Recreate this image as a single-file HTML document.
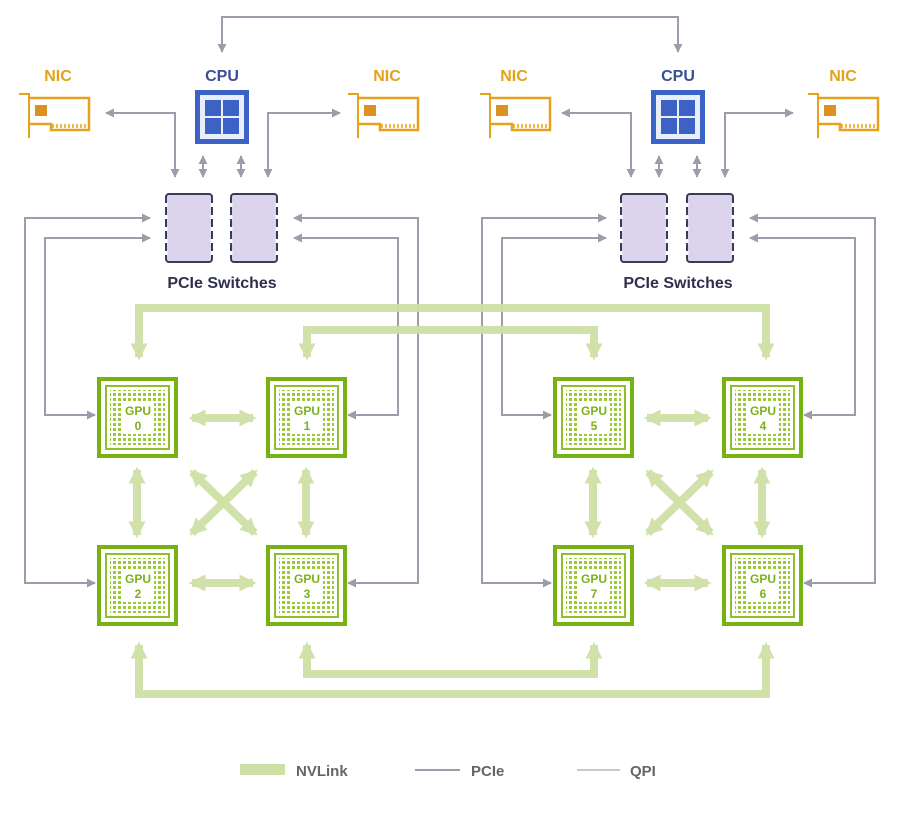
<!DOCTYPE html>
<html><head><meta charset="utf-8"><style>
html,body{margin:0;padding:0;background:#fff;}
svg{display:block;}
text{font-family:"Liberation Sans",sans-serif;font-weight:bold;}
</style></head><body>
<svg width="899" height="813" viewBox="0 0 899 813" xmlns="http://www.w3.org/2000/svg">
<defs>
<marker id="pa" viewBox="0 0 10 10" refX="9" refY="5" markerWidth="9" markerHeight="9" markerUnits="userSpaceOnUse" orient="auto-start-reverse"><path d="M0,0L10,5L0,10z" fill="#9c9cab"/></marker>
<marker id="ga" viewBox="0 0 10 10" refX="8" refY="5" markerWidth="17" markerHeight="17" markerUnits="userSpaceOnUse" orient="auto-start-reverse"><path d="M0,0L10,5L0,10z" fill="#cfe0a6"/></marker>
<pattern id="dots" width="5" height="5" patternUnits="userSpaceOnUse"><rect x="1" y="1" width="3" height="3" fill="#9cc93a"/></pattern>
<symbol id="gpu" viewBox="0 0 81 81">
<rect x="0" y="0" width="81" height="81" fill="#76b312"/>
<rect x="4" y="4" width="73" height="73" fill="#fff"/>
<rect x="9" y="9" width="63" height="63" fill="#fff" stroke="#8fbf2a" stroke-width="2"/>
<rect x="13" y="13" width="55" height="55" fill="url(#dots)"/>
<rect x="24" y="25" width="33" height="32" fill="#fff"/>
</symbol>
<symbol id="nic" viewBox="0 0 72 46">
<path d="M0,2H10V46" fill="none" stroke="#e6a21a" stroke-width="2"/>
<path d="M10,6H70V38H32V32H10" fill="none" stroke="#e6a21a" stroke-width="2.5"/>
<rect x="16" y="13" width="12" height="11" fill="#dc9220"/>
<path d="M34,32V36M38,32V36M42,32V36M46,32V36M50,32V36M54,32V36M58,32V36M62,32V36M66,32V36" stroke="#e6a21a" stroke-width="1.5"/>
</symbol>
<symbol id="cpu" viewBox="0 0 54 54">
<rect x="0" y="0" width="54" height="54" fill="#3b62c4"/>
<rect x="5" y="5" width="44" height="44" fill="#e8eefa"/>
<rect x="10" y="10" width="16" height="16" fill="#3b62c4"/>
<rect x="28" y="10" width="16" height="16" fill="#3b62c4"/>
<rect x="10" y="28" width="16" height="16" fill="#3b62c4"/>
<rect x="28" y="28" width="16" height="16" fill="#3b62c4"/>
</symbol>
<symbol id="sw" viewBox="0 0 48 70">
<rect x="1" y="1" width="46" height="68" rx="3" fill="#dcd3ec" stroke="#3a3a5a" stroke-width="2"/>
<path d="M1,10v4M1,22v4M1,34v4M1,46v4M1,58v4M47,10v4M47,22v4M47,34v4M47,46v4M47,58v4" stroke="#fff" stroke-width="3"/>
</symbol>
</defs>

<path d="M222,52V17H678V52" fill="none" stroke="#9c9cab" stroke-width="2" marker-start="url(#pa)" marker-end="url(#pa)"/>

<g font-size="16" text-anchor="middle">
<text x="58" y="81" fill="#e3a21a">NIC</text>
<text x="222" y="81" fill="#3a4f9a">CPU</text>
<text x="387" y="81" fill="#e3a21a">NIC</text>
<text x="514" y="81" fill="#e3a21a">NIC</text>
<text x="678" y="81" fill="#3a4f9a">CPU</text>
<text x="843" y="81" fill="#e3a21a">NIC</text>
<text x="222" y="288" fill="#2f2f4f">PCIe Switches</text>
<text x="678" y="288" fill="#2f2f4f">PCIe Switches</text>
</g>

<use href="#nic" x="19" y="92" width="72" height="46"/>
<use href="#nic" x="348" y="92" width="72" height="46"/>
<use href="#nic" x="480" y="92" width="72" height="46"/>
<use href="#nic" x="808" y="92" width="72" height="46"/>
<use href="#cpu" x="195" y="90" width="54" height="54"/>
<use href="#cpu" x="651" y="90" width="54" height="54"/>
<use href="#sw" x="165" y="193" width="48" height="70"/>
<use href="#sw" x="230" y="193" width="48" height="70"/>
<use href="#sw" x="620" y="193" width="48" height="70"/>
<use href="#sw" x="686" y="193" width="48" height="70"/>

<g fill="none" stroke="#9c9cab" stroke-width="2">
<path d="M175,177V113H106" marker-start="url(#pa)" marker-end="url(#pa)"/>
<path d="M268,177V113H340" marker-start="url(#pa)" marker-end="url(#pa)"/>
<path d="M203,156V177" marker-start="url(#pa)" marker-end="url(#pa)"/>
<path d="M241,156V177" marker-start="url(#pa)" marker-end="url(#pa)"/>
<path d="M631,177V113H562" marker-start="url(#pa)" marker-end="url(#pa)"/>
<path d="M725,177V113H793" marker-start="url(#pa)" marker-end="url(#pa)"/>
<path d="M659,156V177" marker-start="url(#pa)" marker-end="url(#pa)"/>
<path d="M697,156V177" marker-start="url(#pa)" marker-end="url(#pa)"/>
<path d="M150,218H25V583H95" marker-start="url(#pa)" marker-end="url(#pa)"/>
<path d="M150,238H45V415H95" marker-start="url(#pa)" marker-end="url(#pa)"/>
<path d="M294,218H418V583H348" marker-start="url(#pa)" marker-end="url(#pa)"/>
<path d="M294,238H398V415H348" marker-start="url(#pa)" marker-end="url(#pa)"/>
<path d="M606,218H482V583H551" marker-start="url(#pa)" marker-end="url(#pa)"/>
<path d="M606,238H502V415H551" marker-start="url(#pa)" marker-end="url(#pa)"/>
<path d="M750,218H875V583H804" marker-start="url(#pa)" marker-end="url(#pa)"/>
<path d="M750,238H855V415H804" marker-start="url(#pa)" marker-end="url(#pa)"/>
</g>

<g fill="none" stroke="#cfe0a6" stroke-width="8" opacity="0.95">
<path d="M139,357V308H766V357" marker-start="url(#ga)" marker-end="url(#ga)"/>
<path d="M307,357V330H594V357" marker-start="url(#ga)" marker-end="url(#ga)"/>
<path d="M307,645V674H594V645" marker-start="url(#ga)" marker-end="url(#ga)"/>
<path d="M139,645V694H766V645" marker-start="url(#ga)" marker-end="url(#ga)"/>
<path d="M192,418H253" marker-start="url(#ga)" marker-end="url(#ga)"/>
<path d="M192,583H253" marker-start="url(#ga)" marker-end="url(#ga)"/>
<path d="M137,470V535" marker-start="url(#ga)" marker-end="url(#ga)"/>
<path d="M306,470V535" marker-start="url(#ga)" marker-end="url(#ga)"/>
<path d="M192,472L255,533" marker-start="url(#ga)" marker-end="url(#ga)"/>
<path d="M255,472L192,533" marker-start="url(#ga)" marker-end="url(#ga)"/>
<path d="M647,418H708" marker-start="url(#ga)" marker-end="url(#ga)"/>
<path d="M647,583H708" marker-start="url(#ga)" marker-end="url(#ga)"/>
<path d="M593,470V535" marker-start="url(#ga)" marker-end="url(#ga)"/>
<path d="M762,470V535" marker-start="url(#ga)" marker-end="url(#ga)"/>
<path d="M648,472L711,533" marker-start="url(#ga)" marker-end="url(#ga)"/>
<path d="M711,472L648,533" marker-start="url(#ga)" marker-end="url(#ga)"/>
</g>

<use href="#gpu" x="97" y="377" width="81" height="81"/>
<use href="#gpu" x="266" y="377" width="81" height="81"/>
<use href="#gpu" x="97" y="545" width="81" height="81"/>
<use href="#gpu" x="266" y="545" width="81" height="81"/>
<use href="#gpu" x="553" y="377" width="81" height="81"/>
<use href="#gpu" x="722" y="377" width="81" height="81"/>
<use href="#gpu" x="553" y="545" width="81" height="81"/>
<use href="#gpu" x="722" y="545" width="81" height="81"/>
<g font-size="12" fill="#7ab317" text-anchor="middle">
<text x="138" y="415">GPU</text><text x="138" y="430">0</text>
<text x="307" y="415">GPU</text><text x="307" y="430">1</text>
<text x="138" y="583">GPU</text><text x="138" y="598">2</text>
<text x="307" y="583">GPU</text><text x="307" y="598">3</text>
<text x="594" y="415">GPU</text><text x="594" y="430">5</text>
<text x="763" y="415">GPU</text><text x="763" y="430">4</text>
<text x="594" y="583">GPU</text><text x="594" y="598">7</text>
<text x="763" y="583">GPU</text><text x="763" y="598">6</text>
</g>

<rect x="240" y="764" width="45" height="11" fill="#cfe0a6"/>
<text x="296" y="776" font-size="15" fill="#666" font-weight="normal">NVLink</text>
<line x1="415" y1="770" x2="460" y2="770" stroke="#9c9cab" stroke-width="2"/>
<text x="471" y="776" font-size="15" fill="#666" font-weight="normal">PCIe</text>
<line x1="577" y1="770" x2="620" y2="770" stroke="#c8c8d0" stroke-width="2"/>
<text x="630" y="776" font-size="15" fill="#666" font-weight="normal">QPI</text>
</svg>
</body></html>
